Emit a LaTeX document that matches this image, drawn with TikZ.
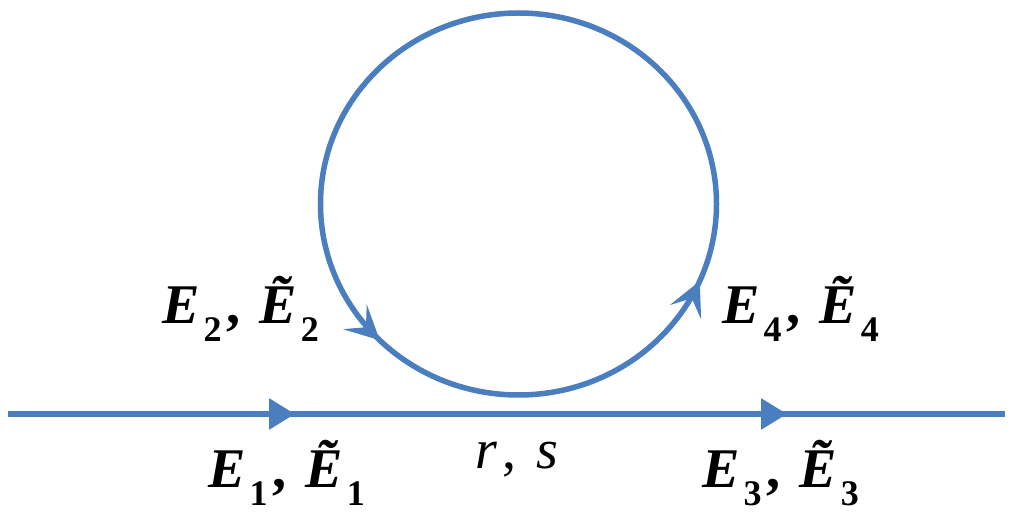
\documentclass[tikz,border=0pt]{standalone}
\usepackage{fontspec}
\setmainfont{Liberation Serif}
\usetikzlibrary{arrows.meta,decorations.markings}
\definecolor{lineblue}{RGB}{74,126,190}
\newcommand\Esub[2]{{\bfseries\itshape #1}\hspace{4pt}\raisebox{-18pt}{\fontsize{36}{36}\selectfont\bfseries #2}}
\newcommand\pairlab[1]{\Esub{E}{#1}\hspace{5pt}{\bfseries ,}\hspace{19pt}\Esub{Ẽ}{#1}}
\begin{document}
\begin{tikzpicture}[x=1pt,y=1pt,
  lab/.style={anchor=base west, inner sep=0pt, font=\fontsize{56}{60}\selectfont},
  wire/.style={draw=lineblue, line width=6pt},
  ringwire/.style={draw=lineblue, line width=5.5pt}]
\useasboundingbox (0,0) rectangle (1012,512);
\coordinate (lineL) at (8,98);
\coordinate (lineR) at (1005,98);
\coordinate (ringC) at (518.5,308);
\draw[wire, postaction={decorate}, decoration={markings,
   mark=at position 287pt with {\arrow[lineblue]{Triangle[length=26pt,width=30pt]}},
   mark=at position 779pt with {\arrow[lineblue]{Triangle[length=26pt,width=30pt]}}}]
   (lineL) -- (lineR);
\draw[ringwire, postaction={decorate}, decoration={markings,
   mark=at position 0.625 with {\arrow[lineblue]{Stealth[length=34pt,width=34pt,inset=15pt]}},
   mark=at position 0.935 with {\arrow[lineblue]{Stealth[length=34pt,width=34pt,inset=15pt]}}}]
   (ringC) ellipse [x radius=198, y radius=191];
\node[lab] (e2) at (162,189) {\pairlab{2}};
\node[lab] (e4) at (722,189) {\pairlab{4}};
\node[lab] (e1) at (208,25) {\pairlab{1}};
\node[lab] (e3) at (702,25) {\pairlab{3}};
\node[lab] (rs) at (475,44) {\itshape r\hspace{6pt}\upshape ,\hspace{20pt}\itshape s};
\end{tikzpicture}
\end{document}
